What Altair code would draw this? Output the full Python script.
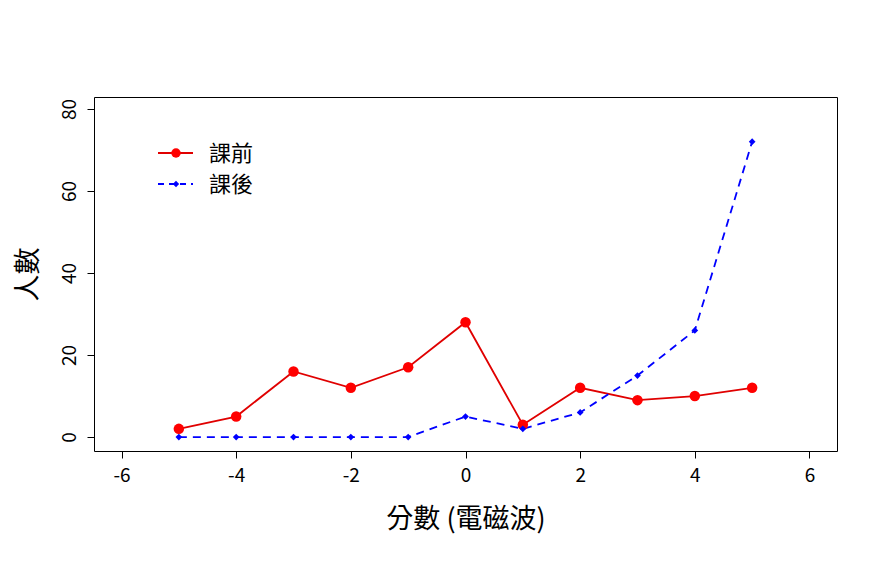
import altair as alt
import pandas as pd

scores = [-5, -4, -3, -2, -1, 0, 1, 2, 3, 4, 5]
before = [2, 5, 16, 12, 17, 28, 3, 12, 9, 10, 12]
after = [0, 0, 0, 0, 0, 5, 2, 6, 15, 26, 72]
x_ticks = [-6, -4, -2, 0, 2, 4, 6]
y_ticks = [0, 20, 40, 60, 80]
legend_labels = ["課前", "課後"]

FONT = "Noto Sans CJK TC"

df_b = pd.DataFrame({"x": scores, "y": before})
df_a = pd.DataFrame({"x": scores, "y": after})

xs = alt.Scale(domain=[-6.48, 6.48], nice=False, zero=False)
ys = alt.Scale(domain=[-3.4, 82.9], nice=False, zero=False)

xax = alt.Axis(values=x_ticks, title="分數 (電磁波)", grid=False, domain=False,
               tickColor="black", tickSize=7, labelFontSize=19, labelColor="black",
               labelFont=FONT, labelPadding=8, titleFont=FONT, titleFontSize=27,
               titleFontWeight="normal", titleColor="black", titleY=68,
               titleBaseline="middle", labelExpr="'' + datum.value")
yax = alt.Axis(values=y_ticks, title="人數", grid=False, domain=False,
               tickColor="black", tickSize=7, labelFontSize=19, labelColor="black",
               labelFont=FONT, labelAngle=270, labelAlign="center",
               labelBaseline="bottom", labelPadding=8, titleFont=FONT,
               titleFontSize=27, titleFontWeight="normal", titleColor="black",
               titleAngle=270, titleX=-66, titleBaseline="middle",
               labelExpr="'' + datum.value")

X = alt.X("x:Q", scale=xs, axis=xax)
Y = alt.Y("y:Q", scale=ys, axis=yax)

red_line = alt.Chart(df_b).mark_line(color="#e00000", strokeWidth=1.8).encode(x=X, y=Y)
red_pts = alt.Chart(df_b).mark_point(shape="circle", filled=True, color="#ff0000",
                                     size=110, opacity=1).encode(x=X, y=Y)
blue_line = alt.Chart(df_a).mark_line(color="#0000ff", strokeWidth=1.8,
                                      strokeDash=[8, 6]).encode(x=X, y=Y)
blue_pts = alt.Chart(df_a).mark_point(shape="diamond", filled=True, color="#0000ff",
                                      size=45, opacity=1).encode(x=X, y=Y)

leg_df = pd.DataFrame({"label": legend_labels})
leg_red_line = alt.Chart(leg_df.iloc[[0]]).mark_rule(color="#e00000", strokeWidth=1.8).encode(
    x=alt.value(64), x2=alt.value(99), y=alt.value(56))
leg_red_pt = alt.Chart(leg_df.iloc[[0]]).mark_point(shape="circle", filled=True, color="#ff0000",
                                                   size=90, opacity=1).encode(
    x=alt.value(82), y=alt.value(56))
leg_blue_line = alt.Chart(leg_df.iloc[[1]]).mark_rule(color="#0000ff", strokeWidth=1.8,
                                                      strokeDash=[6, 5]).encode(
    x=alt.value(64), x2=alt.value(99), y=alt.value(87))
leg_blue_pt = alt.Chart(leg_df.iloc[[1]]).mark_point(shape="diamond", filled=True, color="#0000ff",
                                                    size=40, opacity=1).encode(
    x=alt.value(82), y=alt.value(87))
leg_text_1 = alt.Chart(leg_df.iloc[[0]]).mark_text(align="left", baseline="middle", font=FONT,
                                                  fontSize=22, color="black").encode(
    x=alt.value(115), y=alt.value(57), text="label:N")
leg_text_2 = alt.Chart(leg_df.iloc[[1]]).mark_text(align="left", baseline="middle", font=FONT,
                                                  fontSize=22, color="black").encode(
    x=alt.value(115), y=alt.value(88), text="label:N")

chart = alt.layer(red_line, blue_line, red_pts, blue_pts,
                  leg_red_line, leg_red_pt, leg_blue_line, leg_blue_pt,
                  leg_text_1, leg_text_2).properties(
    width=743, height=354,
    padding={"left": 94, "top": 97, "right": 42, "bottom": 116},
    autosize=alt.AutoSizeParams(type="none"),
    background="white",
).configure_view(stroke="black", strokeWidth=1)

chart.save("out.html", embed_options={"renderer": "svg", "actions": False})
